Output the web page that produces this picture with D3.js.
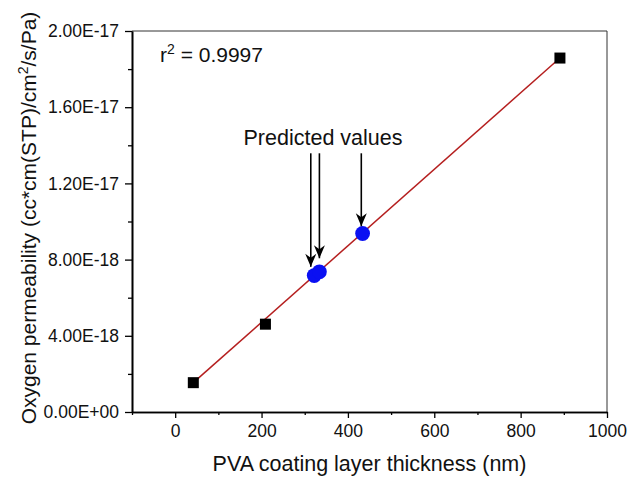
<!DOCTYPE html>
<html>
<head>
<meta charset="utf-8">
<script src="https://cdn.jsdelivr.net/npm/d3@7"></script>
<style>
  body { margin: 0; background: #fff; }
  svg { font-family: Arial, "Liberation Sans", sans-serif; }
</style>
</head>
<body>
<svg width="632" height="486"></svg>
<script>
var width = 632;
var height = 486;
var margin = {left: 132, right: 25, top: 31, bottom: 74};

// measured samples (black squares)
var measuredX = [42, 209, 891];
var measuredY = [1.54e-18, 4.61e-18, 1.858e-17];

// predicted samples (blue circles)
var predictedX = [322, 334, 434];
var predictedY = [7.16e-18, 7.36e-18, 9.37e-18];

// linear fit end points
var fitX = [42, 891];
var fitY = [1.54e-18, 1.858e-17];

// arrows for "Predicted values"
var arrowX = [314, 334, 431];
var arrowTopY = [1.358e-17, 1.358e-17, 1.358e-17];
var arrowTipY = [7.62e-18, 8.07e-18, 9.75e-18];

var xTicks = [0, 200, 400, 600, 800, 1000];
var xMinor = [-100, 100, 300, 500, 700, 900];
var yTicks = [0, 4e-18, 8e-18, 1.2e-17, 1.6e-17, 2e-17];
var yMinor = [2e-18, 6e-18, 1e-17, 1.4e-17, 1.8e-17];

var xScale = d3.scaleLinear()
    .domain([-100, 1000])
    .range([margin.left, width - margin.right]);

var yScale = d3.scaleLinear()
    .domain([0, 2e-17])
    .range([height - margin.bottom, margin.top]);

function sciFormat(v) {
    var parts = v.toExponential(2).split("e");
    var e = parts[1];
    return parts[0] + "E" + e[0] + e.slice(1).padStart(2, "0");
}

var svg = d3.select("svg");

// arrow head, drawn pointing along +x (orient auto turns it down the line)
svg.append("defs").append("marker")
    .attr("id", "head")
    .attr("viewBox", "-14 -7 15 14")
    .attr("refX", 0)
    .attr("refY", 0)
    .attr("markerWidth", 15)
    .attr("markerHeight", 14)
    .attr("markerUnits", "userSpaceOnUse")
    .attr("orient", "auto")
  .append("path")
    .attr("d", "M0,0 L-13,-5.5 L-9,0 L-13,5.5 Z")
    .attr("fill", "#000");

// frame top + right
svg.append("path")
    .attr("d", `M${xScale(-100)},${yScale(2e-17)} H${xScale(1000)} V${yScale(0)}`)
    .attr("fill", "none")
    .attr("stroke", "#333")
    .attr("stroke-width", 1);

svg.append("g")
    .attr("transform", `translate(0, ${yScale(0)})`)
    .call(d3.axisBottom(xScale).tickValues(xTicks).tickFormat(d3.format("d"))
        .tickSize(6).tickPadding(7).tickSizeOuter(0));
svg.append("g")
    .attr("transform", `translate(0, ${yScale(0)})`)
    .call(d3.axisBottom(xScale).tickValues(xMinor).tickSize(3).tickFormat("").tickSizeOuter(0));

svg.append("g")
    .attr("transform", `translate(${xScale(-100)}, 0)`)
    .call(d3.axisLeft(yScale).tickValues(yTicks).tickSize(7).tickPadding(6).tickFormat(sciFormat).tickSizeOuter(0));
svg.append("g")
    .attr("transform", `translate(${xScale(-100)}, 0)`)
    .call(d3.axisLeft(yScale).tickValues(yMinor).tickSize(4).tickFormat("").tickSizeOuter(0));

svg.selectAll(".domain").attr("stroke", "#000").attr("stroke-width", 1.6);
svg.selectAll(".tick line").attr("stroke", "#000").attr("stroke-width", 1.3);
svg.selectAll(".tick text")
    .style("font-family", "Arial, 'Liberation Sans', sans-serif")
    .style("font-size", "17.5px")
    .attr("fill", "#111");

// fit line
svg.append("line")
    .attr("x1", xScale(fitX[0]))
    .attr("y1", yScale(fitY[0]))
    .attr("x2", xScale(fitX[1]))
    .attr("y2", yScale(fitY[1]))
    .attr("stroke", "#b51f1f")
    .attr("stroke-width", 1.5);

svg.selectAll("rect.meas")
    .data(measuredX)
    .enter()
    .append("rect")
    .attr("class", "meas")
    .attr("x", d => xScale(d) - 5.5)
    .attr("y", (d, i) => yScale(measuredY[i]) - 5.5)
    .attr("width", 11)
    .attr("height", 11)
    .attr("fill", "#000");

svg.selectAll("circle.pred")
    .data(predictedX)
    .enter()
    .append("circle")
    .attr("class", "pred")
    .attr("cx", d => xScale(d))
    .attr("cy", (d, i) => yScale(predictedY[i]))
    .attr("r", 7.4)
    .attr("fill", "#0a10f2");

svg.selectAll("line.arrow")
    .data(arrowX)
    .enter()
    .append("line")
    .attr("class", "arrow")
    .attr("x1", d => xScale(d))
    .attr("y1", (d, i) => yScale(arrowTopY[i]))
    .attr("x2", d => xScale(d))
    .attr("y2", (d, i) => yScale(arrowTipY[i]))
    .attr("stroke", "#000")
    .attr("stroke-width", 1.6)
    .attr("marker-end", "url(#head)");

svg.append("text")
    .attr("x", 323)
    .attr("y", 145)
    .attr("text-anchor", "middle")
    .style("font-size", "21.5px")
    .attr("fill", "#111")
    .text("Predicted values");

var r2 = svg.append("text")
    .attr("x", 160)
    .attr("y", 62)
    .style("font-size", "21px")
    .attr("fill", "#111");
r2.append("tspan").text("r");
r2.append("tspan").attr("dy", -8).style("font-size", "14px").text("2");
r2.append("tspan").attr("dy", 8).text(" = 0.9997");

svg.append("text")
    .attr("x", (xScale(-100) + xScale(1000)) / 2)
    .attr("y", 471)
    .attr("text-anchor", "middle")
    .style("font-size", "21.5px")
    .attr("fill", "#111")
    .text("PVA coating layer thickness (nm)");

var yt = svg.append("text")
    .attr("transform", "rotate(-90)")
    .attr("x", -218)
    .attr("y", 36)
    .attr("text-anchor", "middle")
    .style("font-size", "21px")
    .attr("fill", "#111");
yt.append("tspan").text("Oxygen permeability (cc*cm(STP)/cm");
yt.append("tspan").attr("dy", -8).style("font-size", "14px").text("2");
yt.append("tspan").attr("dy", 8).text("/s/Pa)");
</script>
</body>
</html>
